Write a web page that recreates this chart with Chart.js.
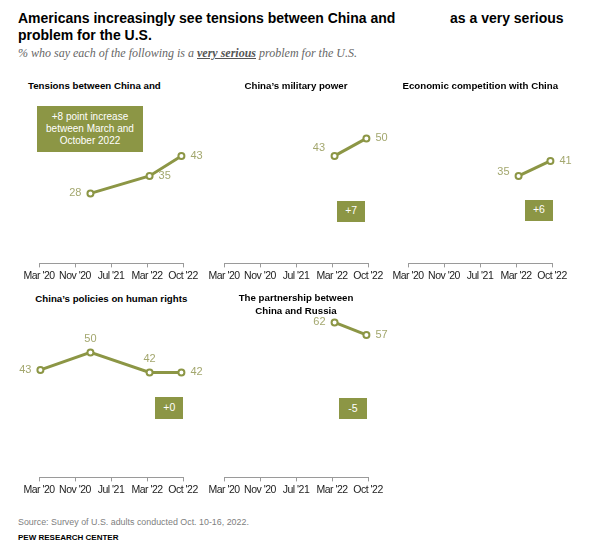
<!DOCTYPE html>
<html><head><meta charset="utf-8">
<script src="https://cdn.jsdelivr.net/npm/chart.js@4.4.0/dist/chart.umd.min.js"></script>
<style>
html,body{margin:0;padding:0;background:#fff;}
#wrap{position:relative;width:600px;height:553px;overflow:hidden;background:#fff;font-family:"Liberation Sans",Arial,sans-serif;}
.t{position:absolute;white-space:nowrap;}
.title{font-weight:bold;font-size:14px;line-height:14px;color:#000;}
.sub{font-family:"Liberation Serif",serif;font-style:italic;font-size:12px;line-height:12px;color:#666;}
.sub b{color:#555;text-decoration:underline;}
.ptitle{font-weight:bold;font-size:9.7px;line-height:12.5px;color:#000;}
.box{position:absolute;background:#8c9645;color:#fff;font-size:10px;line-height:11.8px;display:flex;align-items:center;justify-content:center;text-align:center;}
canvas{position:absolute;}
</style></head><body>
<div id="wrap">
  <div class="t title" style="left:18px;top:10.9px;">Americans increasingly see tensions between China and</div>
  <div class="t title" style="left:450px;top:10.9px;">as a very serious</div>
  <div class="t title" style="left:18px;top:27.5px;">problem for the U.S.</div>
  <div class="t sub" style="left:18px;top:46.6px;">% who say each of the following is a <b>very serious</b> problem for the U.S.</div>
  <div class="t" style="left:18px;top:517.5px;font-size:8.9px;line-height:8.9px;color:#808080;">Source: Survey of U.S. adults conducted Oct. 10-16, 2022.</div>
  <div class="t" style="left:18px;top:533.9px;font-size:8px;line-height:8px;font-weight:bold;color:#000;">PEW RESEARCH CENTER</div>
</div>
<script>
// ---- data ----
const tickLabels = ["Mar '20", "Nov '20", "Jul '21", "Mar '22", "Oct '22"];
// survey dates as month index counted from Jan 2020 = 0 (Mar '20, Feb '21, Mar '22, Oct '22)
const tensionsMonths = [13, 26, 33];
const tensionsValues = [28, 35, 43];
const militaryMonths = [26, 33];
const militaryValues = [43, 50];
const economicMonths = [26, 33];
const economicValues = [35, 41];
const humanRightsMonths = [2, 13, 26, 33];
const humanRightsValues = [43, 50, 42, 42];
const russiaMonths = [26, 33];
const russiaValues = [62, 57];
const panelTitles = ["Tensions between China and", "China\u2019s military power", "Economic competition with China", "China\u2019s policies on human rights", "The partnership between<br>China and Russia"];
const changeLabels = ["+8 point increase<br>between March and<br>October 2022", "+7", "+6", "+0", "-5"];

// ---- layout / style ----
const OLIVE = '#8c9645';
const LABEL = '#a3a76e';
const X_MIN = 1.69, X_MAX = 33.35;
const PX_PER_UNIT = 2.5;
const layout = [
  {months: tensionsMonths, values: tensionsValues, axisLeft: 39.3, axisBottom: 263, labelPos: ['left','right','right'],
   title: {left: 28, top: 80, center: false}, box: {x: 37.3, y: 106, w: 105.4, h: 45.7}},
  {months: militaryMonths, values: militaryValues, axisLeft: 224, axisBottom: 263, labelPos: ['aboveLeft','right'],
   title: {top: 80, center: true}, box: {x: 337, y: 200.7, w: 28.3, h: 21}},
  {months: economicMonths, values: economicValues, axisLeft: 408.3, axisBottom: 263, labelPos: ['leftHigh','right'],
   title: {top: 80, center: true}, box: {x: 524.7, y: 199.7, w: 28.6, h: 21}},
  {months: humanRightsMonths, values: humanRightsValues, axisLeft: 39.3, axisBottom: 477, labelPos: ['left','above','above','right'],
   title: {top: 292.5, center: true}, box: {x: 155.3, y: 397.3, w: 28, h: 21.4}},
  {months: russiaMonths, values: russiaValues, axisLeft: 224, axisBottom: 477, labelPos: ['left','right'],
   title: {top: 292, center: true}, box: {x: 338.7, y: 398, w: 28.3, h: 21}}
];
const AXIS_W = 144;

// slightly condensed tick labels (the original uses a narrow typeface)
const condense = {
  id: 'condense',
  beforeDraw(chart) { chart.ctx.letterSpacing = '-0.5px'; },
  afterDraw(chart) { chart.ctx.letterSpacing = '0px'; }
};

const valueLabels = {
  id: 'valueLabels',
  afterDatasetsDraw(chart, args, opts) {
    const ctx = chart.ctx;
    const meta = chart.getDatasetMeta(0);
    const ds = chart.data.datasets[0];
    ctx.save();
    ctx.letterSpacing = '0px';
    ctx.font = '11px "Liberation Sans", Arial, sans-serif';
    ctx.fillStyle = LABEL;
    ctx.textBaseline = 'middle';
    meta.data.forEach((pt, i) => {
      const pos = opts.positions[i];
      let x = pt.x, y = pt.y;
      if (pos === 'left') { ctx.textAlign = 'right'; x -= 9; }
      else if (pos === 'leftHigh') { ctx.textAlign = 'right'; x -= 9; y -= 4; }
      else if (pos === 'right') { ctx.textAlign = 'left'; x += 9; }
      else if (pos === 'above') { ctx.textAlign = 'center'; y -= 13.3; }
      else if (pos === 'aboveLeft') { ctx.textAlign = 'right'; x -= 9.5; y -= 8; }
      ctx.fillText(String(ds.data[i].y), x, y);
    });
    ctx.restore();
  }
};

const wrap = document.getElementById('wrap');

layout.forEach((p, k) => {
  // title
  const t = document.createElement('div');
  t.className = 't ptitle';
  t.innerHTML = panelTitles[k];
  t.style.top = p.title.top + 'px';
  if (p.title.center) {
    t.style.left = (p.axisLeft + AXIS_W / 2 - 100) + 'px';
    t.style.width = '200px';
    t.style.textAlign = 'center';
  } else {
    t.style.left = p.title.left + 'px';
  }
  wrap.appendChild(t);

  // change box
  const b = document.createElement('div');
  b.className = 'box';
  b.style.left = p.box.x + 'px'; b.style.top = p.box.y + 'px';
  b.style.width = p.box.w + 'px'; b.style.height = p.box.h + 'px';
  if (k > 0) b.style.fontSize = '10.5px';
  b.innerHTML = changeLabels[k];
  wrap.appendChild(b);

  // chart
  const canvas = document.createElement('canvas');
  canvas.width = AXIS_W + 60;
  canvas.height = 215;
  wrap.appendChild(canvas);
  const data = p.months.map((m, i) => ({x: m, y: p.values[i]}));
  const chart = new Chart(canvas, {
    type: 'line',
    data: {datasets: [{
      data,
      borderColor: OLIVE, borderWidth: 3,
      pointRadius: 3, pointBorderWidth: 2,
      pointBackgroundColor: '#fff', pointBorderColor: OLIVE,
      tension: 0, clip: false
    }]},
    options: {
      responsive: false, animation: false, devicePixelRatio: 1,
      layout: {padding: {left: 30, right: 30, top: 10, bottom: 0}},
      plugins: {legend: {display: false}, tooltip: {enabled: false}, valueLabels: {positions: p.labelPos}},
      scales: {
        x: {
          type: 'linear', min: X_MIN, max: X_MAX,
          afterBuildTicks(ax) {
            ax.ticks = tickLabels.map((_, i) => ({value: X_MIN + i * (X_MAX - X_MIN) / (tickLabels.length - 1)}));
          },
          ticks: {
            callback: (v, i) => tickLabels[i],
            autoSkip: false, maxRotation: 0, minRotation: 0,
            color: '#222', padding: 2.5,
            font: {family: '"Liberation Sans", Arial, sans-serif', size: 10.5}
          },
          grid: {display: true, drawOnChartArea: false, drawTicks: true, tickLength: 4, color: '#9a9a9a', lineWidth: 1},
          border: {display: true, color: '#9a9a9a', width: 1}
        },
        y: {display: false, min: 0, max: 80}
      }
    },
    plugins: [condense, valueLabels]
  });
  const ca = chart.chartArea;
  chart.options.scales.y.max = (ca.bottom - ca.top) / PX_PER_UNIT;
  chart.update('none');
  canvas.style.left = Math.round(p.axisLeft - chart.chartArea.left) + 'px';
  canvas.style.top = Math.round(p.axisBottom - chart.chartArea.bottom) + 'px';
});
</script>
</body></html>
